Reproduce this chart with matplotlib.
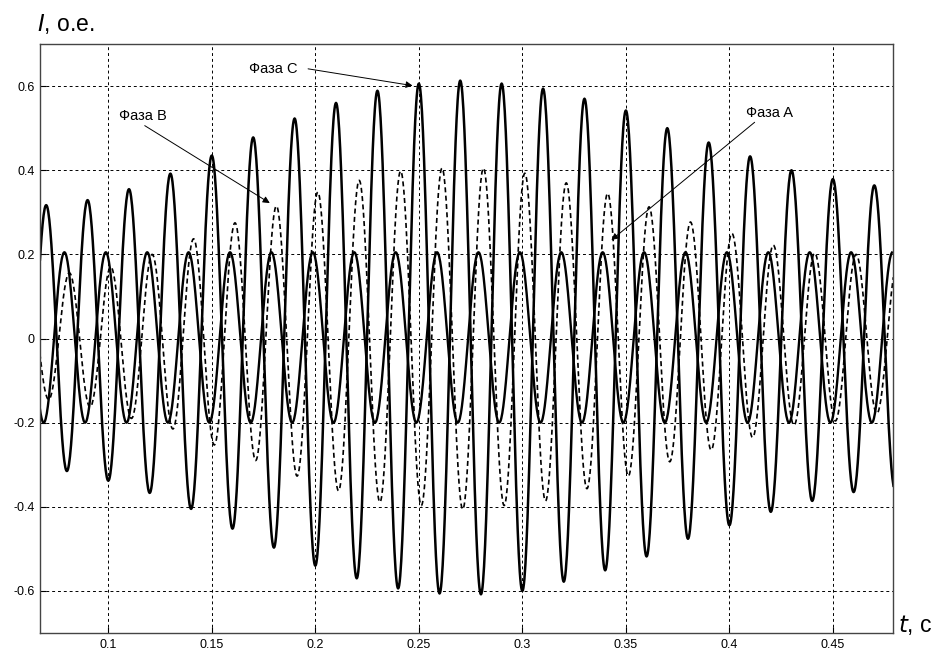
import numpy as np
import matplotlib
matplotlib.use("Agg")
import matplotlib.pyplot as plt

plt.rcParams['font.family'] = ['Liberation Sans', 'DejaVu Sans']

# extrema of each phase current, one every half period (50 Hz -> 0.01 s)
t_ext = np.arange(0.06, 0.4801, 0.01)

phase_a = [0.205, -0.2, 0.205, -0.2, 0.205, -0.2, 0.205, -0.2, 0.205, -0.2,
           0.205, -0.2, 0.205, -0.2, 0.205, -0.2, 0.205, -0.2, 0.205, -0.2,
           0.205, -0.2, 0.205, -0.2, 0.205, -0.2, 0.205, -0.2, 0.205, -0.2,
           0.205, -0.2, 0.205, -0.2, 0.205, -0.2, 0.205, -0.2, 0.205, -0.2,
           0.205, -0.2, 0.205]
a_lag = -0.0012

phase_b = [0.14, -0.145, 0.156, -0.163, 0.17, -0.19, 0.20, -0.215, 0.237, -0.253,
           0.275, -0.29, 0.315, -0.327, 0.348, -0.362, 0.376, -0.389, 0.398, -0.397,
           0.405, -0.406, 0.405, -0.397, 0.393, -0.386, 0.37, -0.357, 0.345, -0.327,
           0.313, -0.293, 0.277, -0.265, 0.25, -0.235, 0.222, -0.206, 0.203, -0.196,
           0.2, -0.178, 0.18]
b_lag = 0.0012

phase_c = [-0.31, 0.317, -0.315, 0.329, -0.338, 0.355, -0.367, 0.392, -0.405, 0.435,
           -0.452, 0.478, -0.497, 0.523, -0.54, 0.56, -0.57, 0.589, -0.594, 0.606,
           -0.606, 0.613, -0.608, 0.606, -0.60, 0.594, -0.578, 0.57, -0.551, 0.542,
           -0.518, 0.50, -0.476, 0.466, -0.444, 0.433, -0.412, 0.40, -0.386, 0.379,
           -0.365, 0.364, -0.36]


def wave(times, vals, n=40):
    # half-cosine between successive peaks, like the sampled current
    tt, yy = [], []
    for i in range(len(vals) - 1):
        s = np.linspace(0, 1, n, endpoint=False)
        tt.append(times[i] + s * (times[i + 1] - times[i]))
        yy.append((vals[i] + vals[i + 1]) / 2 + (vals[i] - vals[i + 1]) / 2 * np.cos(np.pi * s))
    return np.concatenate(tt), np.concatenate(yy)


fig = plt.figure(figsize=(9.36, 6.52), dpi=100)
ax = fig.add_axes([0.0427, 0.0291, 0.9113, 0.9034])

ta, ya = wave(t_ext + a_lag, phase_a)
tb, yb = wave(t_ext + b_lag, phase_b)
tc, yc = wave(t_ext, phase_c)

ax.plot(tb, yb, color='k', lw=1.2, ls=(0, (3, 2)))
ax.plot(ta, ya, color='k', lw=1.7)
ax.plot(tc, yc, color='k', lw=1.8)

ax.set_xlim(0.067, 0.479)
ax.set_ylim(-0.7, 0.7)
ax.set_xticks([0.1, 0.15, 0.2, 0.25, 0.3, 0.35, 0.4, 0.45])
ax.set_xticklabels(['0.1', '0.15', '0.2', '0.25', '0.3', '0.35', '0.4', '0.45'])
ax.set_yticks([-0.6, -0.4, -0.2, 0, 0.2, 0.4, 0.6])
ax.set_yticklabels(['-0.6', '-0.4', '-0.2', '0', '0.2', '0.4', '0.6'])
ax.tick_params(direction='in', length=4, labelsize=9, colors='k', pad=4)
ax.grid(True, color='k', lw=0.7, ls=(0, (3, 3)))
for sp in ax.spines.values():
    sp.set_color('#444444')
    sp.set_linewidth(1.0)

# axis captions
fig.text(0.040, 0.963, '$\\it{I}$, о.е.', fontsize=16.5, va='center', ha='left')
fig.text(0.959, 0.042, '$\\it{t}$, с', fontsize=16.5, va='center', ha='left')

arrow = dict(arrowstyle='-|>', lw=0.7, color='k', mutation_scale=10, shrinkA=0, shrinkB=0)
ax.text(0.1795, 0.641, 'Фаза C', fontsize=10.5, ha='center', va='center')
ax.annotate('', xy=(0.247, 0.601), xytext=(0.1965, 0.641), arrowprops=arrow)
ax.text(0.1167, 0.528, 'Фаза B', fontsize=10.5, ha='center', va='center')
ax.annotate('', xy=(0.178, 0.322), xytext=(0.1176, 0.506), arrowprops=arrow)
ax.text(0.4196, 0.535, 'Фаза A', fontsize=10.5, ha='center', va='center')
ax.annotate('', xy=(0.343, 0.234), xytext=(0.4122, 0.514), arrowprops=arrow)

fig.savefig('out.png', dpi=100)
